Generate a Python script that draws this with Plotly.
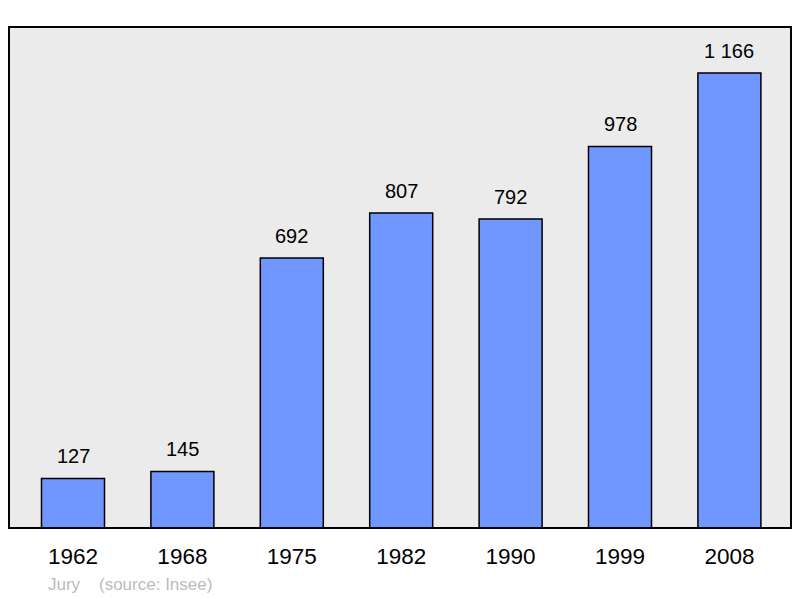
import plotly.graph_objects as go

years = ["1962", "1968", "1975", "1982", "1990", "1999", "2008"]
population = [127, 145, 692, 807, 792, 978, 1166]
value_labels = ["127", "145", "692", "807", "792", "978", "1 166"]
footer_name = "Jury"
footer_source = "(source: Insee)"

FONT = "Liberation Sans, Arial, sans-serif"

fig = go.Figure()
fig.add_trace(go.Bar(
    x=list(range(len(years))), y=population,
    width=0.576,
    marker=dict(color="#7096ff", line=dict(color="#000000", width=1.5)),
    hovertext=years, hoverinfo="text+y",
))

for i, (v, lab) in enumerate(zip(population, value_labels)):
    fig.add_annotation(x=i, y=v, text=lab, showarrow=False, yanchor="bottom",
                       yshift=9, font=dict(family=FONT, size=20, color="#000000"))

fig.add_shape(type="rect", xref="paper", yref="paper", x0=0, y0=0, x1=1, y1=1,
              line=dict(color="#000000", width=2), layer="above")

fig.add_annotation(xref="paper", yref="paper", x=0.0473, y=-0.112, xanchor="left", yanchor="middle",
                   text=footer_name + "&nbsp;&nbsp;&nbsp;&nbsp;" + footer_source, showarrow=False,
                   font=dict(family=FONT, size=17, color="#bbbbbb"))

# page body has an 8px margin, so the figure is drawn 8px in from the corner
fig.update_layout(
    width=792, height=590,
    margin=dict(l=1, r=9, t=19, b=70),
    paper_bgcolor="#ffffff", plot_bgcolor="#ebebeb",
    showlegend=False,
    xaxis=dict(range=[-0.585, 6.563], showgrid=False, zeroline=False,
               tickmode="array", tickvals=list(range(len(years))), ticktext=years,
               ticks="outside", ticklen=8, tickcolor="rgba(0,0,0,0)",
               tickfont=dict(family=FONT, size=22.5, color="#000000"), showline=False),
    yaxis=dict(range=[0, 1284], showgrid=False, zeroline=False, showticklabels=False,
               showline=False, fixedrange=True),
)

fig.write_html("out.html")
